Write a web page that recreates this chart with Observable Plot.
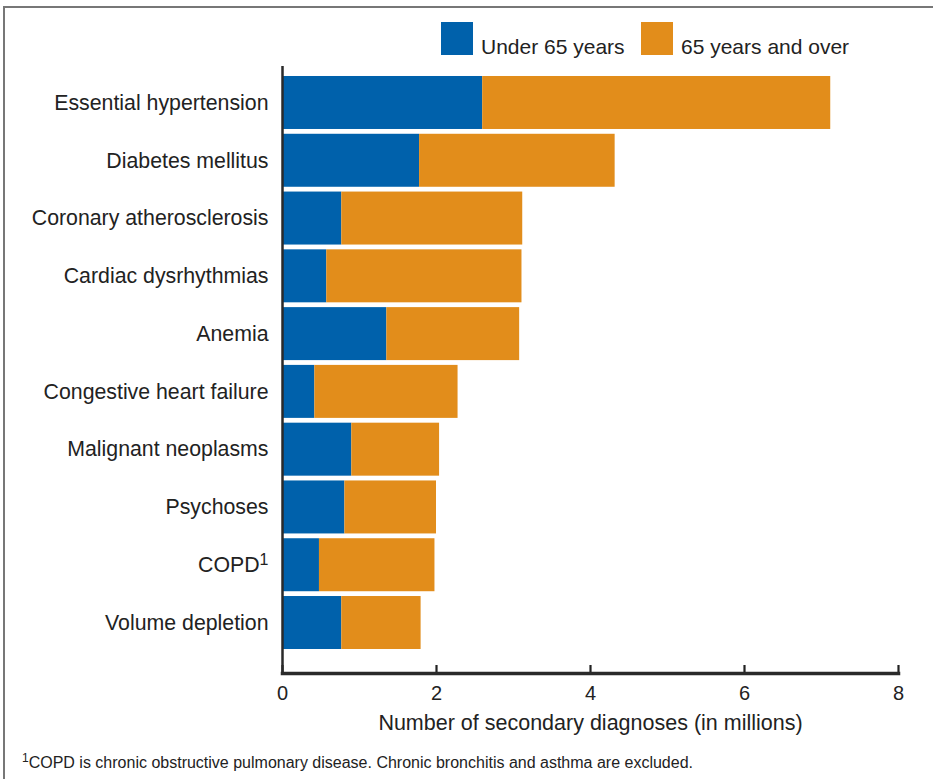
<!DOCTYPE html>
<html>
<head>
<meta charset="utf-8">
<script src="https://cdn.jsdelivr.net/npm/d3@7"></script>
<script src="https://cdn.jsdelivr.net/npm/@observablehq/plot@0.6"></script>
<style>
  html, body { margin: 0; padding: 0; background: #fff; overflow: hidden; width: 933px; height: 779px; }
  body { position: relative; font-family: "Liberation Sans", Arial, Helvetica, sans-serif; color: #222; }
  #border { position: absolute; left: 3px; top: 6px; width: 960px; height: 800px; border: 2px solid #777; box-sizing: border-box; }
  #chart { position: absolute; left: 0; top: 0; }
  .sw { position: absolute; top: 22px; width: 32px; height: 33px; }
  .lg { position: absolute; top: 35px; font-size: 21px; line-height: 24px; white-space: nowrap; }
  #note { position: absolute; left: 22px; top: 754px; font-size: 16px; white-space: nowrap; }
  #note sup { font-size: 12px; vertical-align: 0; position: relative; top: -6px; }
</style>
</head>
<body>
<div id="border"></div>
<div id="chart"></div>
<div id="legend"></div>
<div id="note"><sup>1</sup>COPD is chronic obstructive pulmonary disease. Chronic bronchitis and asthma are excluded.</div>
<script>
const causes = [
  "Essential hypertension",
  "Diabetes mellitus",
  "Coronary atherosclerosis",
  "Cardiac dysrhythmias",
  "Anemia",
  "Congestive heart failure",
  "Malignant neoplasms",
  "Psychoses",
  "COPD",
  "Volume depletion"
];
const under65 = [2.60, 1.78, 0.77, 0.575, 1.355, 0.42, 0.90, 0.81, 0.48, 0.77];
const over65  = [4.52, 2.54, 2.35, 2.535, 1.725, 1.86, 1.14, 1.19, 1.50, 1.03];
const groups = ["Under 65 years", "65 years and over"];
const colors = ["#0061ab", "#e28d1b"];
const xTicks = [0, 2, 4, 6, 8];
const xLabel = "Number of secondary diagnoses (in millions)";

const data = [];
causes.forEach((c, i) => {
  data.push({cause: c, group: groups[0], value: under65[i]});
  data.push({cause: c, group: groups[1], value: over65[i]});
});

const chart = Plot.plot({
  width: 933,
  height: 738,
  marginLeft: 282,
  marginRight: 35,
  marginTop: 66,
  marginBottom: 65,
  style: {fontFamily: '"Liberation Sans", Arial, Helvetica, sans-serif', color: "#222", background: "transparent"},
  x: {domain: [0, 8]},
  y: {domain: causes, padding: 0.083, round: false, insetTop: 5.2, insetBottom: 19.2},
  color: {domain: groups, range: colors},
  marks: [
    Plot.barX(data, {x: "value", y: "cause", fill: "group", order: groups}),
    Plot.axisY({tickSize: 0, tickPadding: 14, fontSize: 21.3, label: null}),
    Plot.axisX({ticks: xTicks, tickSize: -8, tickPadding: 20, strokeWidth: 2.2, fontSize: 20, label: null}),
    Plot.text([xLabel], {text: d => d, frameAnchor: "bottom", dy: 50, fontSize: 21.5, lineAnchor: "middle", fill: "#222"}),
    Plot.ruleX([0], {stroke: "#2a2a2a", strokeWidth: 2.5}),
    Plot.frame({anchor: "bottom", stroke: "#2a2a2a", strokeWidth: 3.5})
  ]
});
document.getElementById("chart").appendChild(chart);

// superscript on COPD label
d3.select(chart).selectAll("text").filter(function() { return this.textContent === "COPD"; })
  .each(function() {
    d3.select(this).append("tspan").attr("dy", "-0.45em").attr("font-size", "0.75em").text("1");
  });

// legend
const legend = document.getElementById("legend");
const lx = [441, 641];
groups.forEach((g, i) => {
  const s = document.createElement("div");
  s.className = "sw"; s.style.left = lx[i] + "px"; s.style.background = colors[i];
  legend.appendChild(s);
  const t = document.createElement("div");
  t.className = "lg"; t.style.left = (lx[i] + 40) + "px"; t.textContent = g;
  legend.appendChild(t);
});
</script>
</body>
</html>
